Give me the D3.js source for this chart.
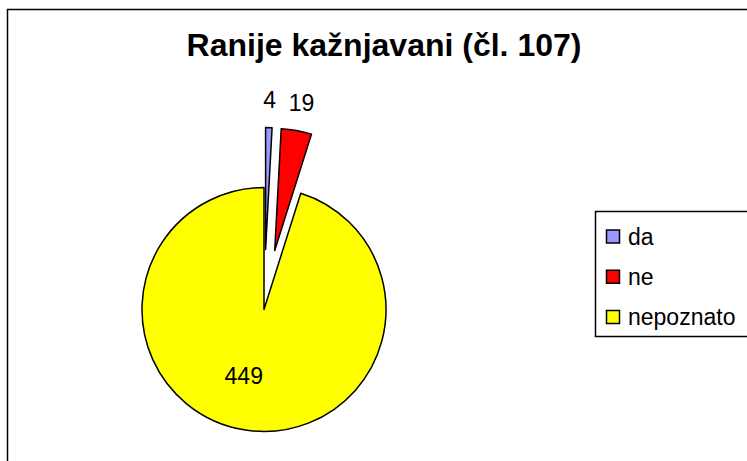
<!DOCTYPE html>
<html>
<head>
<meta charset="utf-8">
<script src="https://cdn.jsdelivr.net/npm/d3@7"></script>
<style>
  body { margin: 0; background: #fff; }
  text { font-family: "Liberation Sans", Arial, sans-serif; }
</style>
</head>
<body>
<div id="grafica"></div>
<script>
// Ranije kaznjavani - pita

let categories = ["da", "ne", "nepoznato"]
let values = [4, 19, 449]
let colors = ["#9999FF", "#FF0000", "#FFFF00"]
let exploded = [true, true, false]

let width = 747
let height = 461

const svg = d3.select('#grafica')
    .append("svg")
    .attr("width", width)
    .attr("height", height)

// okvir
svg.append("rect")
    .attr("x", 7.5)
    .attr("y", 9.5)
    .attr("width", 800)
    .attr("height", 500)
    .attr("fill", "none")
    .attr("stroke", "#000")
    .attr("stroke-width", 1.5)

svg.append("text")
    .attr("x", 384)
    .attr("y", 56)
    .attr("text-anchor", "middle")
    .attr("font-size", 32)
    .attr("font-weight", "bold")
    .text("Ranije kažnjavani (čl. 107)")

let cx = 264
let cy = 309.5
let radius = 122
let explode = 60

const pie = d3.pie().sort(null).value(d => d)
const arcs = pie(values)
const arc = d3.arc().innerRadius(0).outerRadius(radius)
const labelArc = d3.arc().innerRadius(radius * 1.23).outerRadius(radius * 1.23)
const innerLabelArc = d3.arc().innerRadius(radius * 0.55).outerRadius(radius * 0.55)

function offset(d, i) {
    if (!exploded[i]) return [0, 0]
    let a = (d.startAngle + d.endAngle) / 2
    return [explode * Math.sin(a), -explode * Math.cos(a)]
}

const g = svg.append("g").attr("transform", "translate(" + cx + "," + cy + ")")

const slices = g.selectAll("g.slice")
    .data(arcs)
    .enter()
    .append("g")
    .attr("class", "slice")
    .attr("transform", (d, i) => "translate(" + offset(d, i) + ")")

slices.append("path")
    .attr("d", arc)
    .attr("fill", (d, i) => colors[i])
    .attr("stroke", "#000")
    .attr("stroke-width", 1.5)
    .attr("stroke-linejoin", "round")

slices.append("text")
    .attr("transform", (d, i) => "translate(" + (exploded[i] ? labelArc : innerLabelArc).centroid(d) + ")")
    .attr("dx", (d, i) => exploded[i] ? 0 : -10)
    .attr("text-anchor", "middle")
    .attr("dominant-baseline", "central")
    .attr("font-size", 23)
    .text(d => d.data)

// legenda
const legend = svg.append("g").attr("transform", "translate(595.5,211.5)")

legend.append("rect")
    .attr("width", 200)
    .attr("height", 125)
    .attr("fill", "#fff")
    .attr("stroke", "#000")
    .attr("stroke-width", 1.5)

const legendY = d3.scalePoint().domain(categories).range([25, 105.5])

const item = legend.selectAll("g.item")
    .data(categories)
    .enter()
    .append("g")
    .attr("class", "item")
    .attr("transform", d => "translate(0," + legendY(d) + ")")

item.append("rect")
    .attr("x", 11)
    .attr("y", -6.5)
    .attr("width", 13)
    .attr("height", 13)
    .attr("fill", (d, i) => colors[i])
    .attr("stroke", "#000")
    .attr("stroke-width", 1.5)

item.append("text")
    .attr("x", 32.5)
    .attr("y", 0)
    .attr("dominant-baseline", "central")
    .attr("font-size", 23)
    .text(d => d)
</script>
</body>
</html>
